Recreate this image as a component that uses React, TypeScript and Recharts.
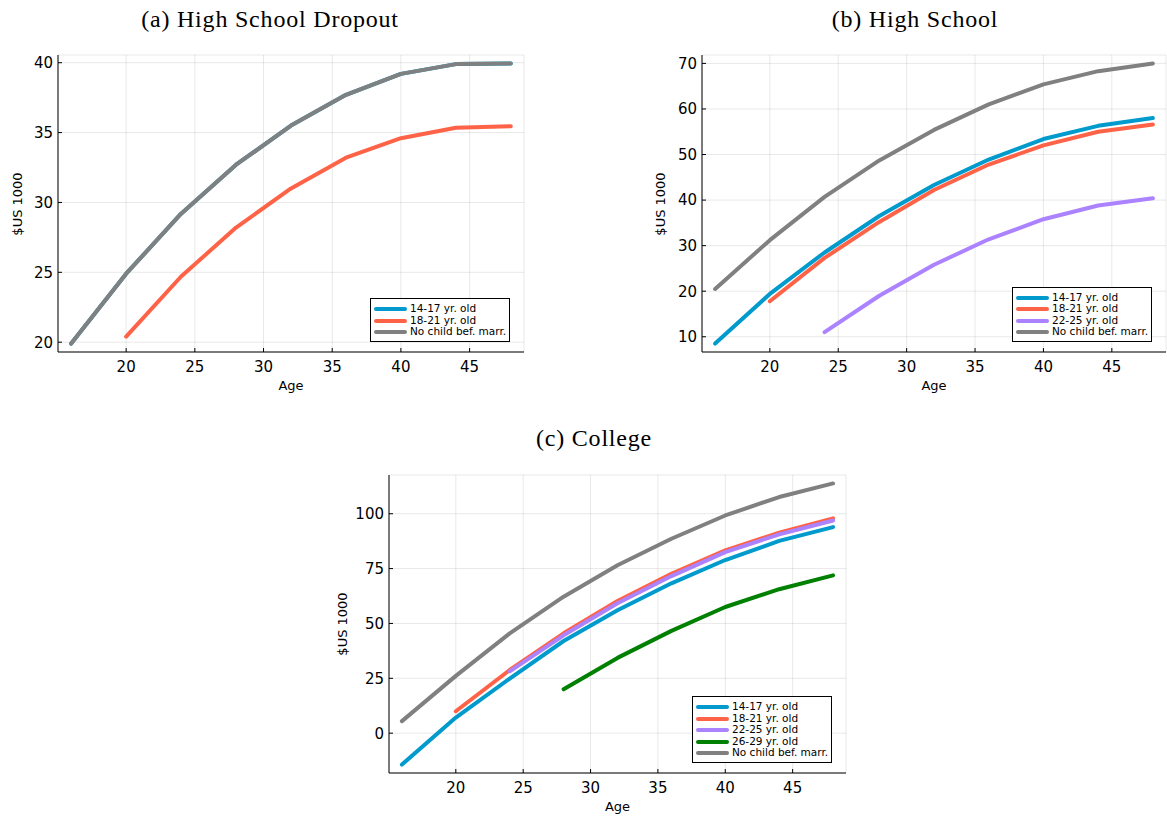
import { LineChart, Line, XAxis, YAxis, CartesianGrid } from 'recharts'

// ages at which earnings are observed
const AGES = [16, 20, 24, 28, 32, 36, 40, 44, 48]
const X_TICKS = [20, 25, 30, 35, 40, 45]

// (a) High School Dropout, $US 1000
const DROP_1417 = [19.9, 24.9, 29.2, 32.7, 35.5, 37.7, 39.2, 39.9, 39.95]
const DROP_1821 = [null, 20.4, 24.7, 28.2, 31.0, 33.2, 34.6, 35.35, 35.45]
const DROP_NOCHILD = [19.9, 24.9, 29.2, 32.7, 35.5, 37.7, 39.2, 39.9, 39.95]
const DROP_Y_TICKS = [20, 25, 30, 35, 40]

// (b) High School
const HS_1417 = [8.5, 19.4, 28.5, 36.5, 43.3, 48.9, 53.4, 56.3, 58.0]
const HS_1821 = [null, 17.8, 27.3, 35.2, 42.2, 47.8, 52.0, 55.0, 56.6]
const HS_2225 = [null, null, 11.0, 19.0, 25.8, 31.4, 35.8, 38.8, 40.4]
const HS_NOCHILD = [20.5, 31.2, 40.7, 48.7, 55.4, 61.0, 65.4, 68.3, 70.0]
const HS_Y_TICKS = [10, 20, 30, 40, 50, 60, 70]

// (c) College
const COL_1417 = [-14.3, 7.1, 24.9, 42.0, 56.0, 68.3, 78.9, 87.6, 93.9]
const COL_1821 = [null, 10.0, 28.8, 45.5, 60.2, 72.6, 83.3, 91.4, 97.9]
const COL_2225 = [null, null, 28.2, 44.6, 59.2, 71.6, 82.5, 90.6, 96.9]
const COL_2629 = [null, null, null, 20.0, 34.3, 46.6, 57.5, 65.6, 71.9]
const COL_NOCHILD = [5.5, 26.1, 45.5, 62.2, 76.5, 88.6, 99.2, 107.6, 113.8]
const COL_Y_TICKS = [0, 25, 50, 75, 100]

const BLUE = '#009ACD'
const RED = '#FF6347'
const PURPLE = '#AB82FF'
const GREEN = '#008000'
const GRAY = '#808080'

type Series = { name: string; color: string; values: (number | null)[] }

interface PanelCfg {
  title: string
  titleX: number
  titleY: number
  left: number
  top: number
  right: number
  bottom: number
  yTicks: number[]
  labelGap: number
  series: Series[]
}

const PANELS: PanelCfg[] = [
  {
    title: '(a) High School Dropout', titleX: 270, titleY: 19,
    left: 58, top: 55, right: 524, bottom: 352, yTicks: DROP_Y_TICKS, labelGap: 40,
    series: [
      { name: '14-17 yr. old', color: BLUE, values: DROP_1417 },
      { name: '18-21 yr. old', color: RED, values: DROP_1821 },
      { name: 'No child bef. marr.', color: GRAY, values: DROP_NOCHILD },
    ],
  },
  {
    title: '(b) High School', titleX: 915, titleY: 19,
    left: 702, top: 55, right: 1166, bottom: 352, yTicks: HS_Y_TICKS, labelGap: 41,
    series: [
      { name: '14-17 yr. old', color: BLUE, values: HS_1417 },
      { name: '18-21 yr. old', color: RED, values: HS_1821 },
      { name: '22-25 yr. old', color: PURPLE, values: HS_2225 },
      { name: 'No child bef. marr.', color: GRAY, values: HS_NOCHILD },
    ],
  },
  {
    title: '(c) College', titleX: 594, titleY: 438,
    left: 389, top: 475, right: 846, bottom: 773, yTicks: COL_Y_TICKS, labelGap: 46,
    series: [
      { name: '14-17 yr. old', color: BLUE, values: COL_1417 },
      { name: '18-21 yr. old', color: RED, values: COL_1821 },
      { name: '22-25 yr. old', color: PURPLE, values: COL_2225 },
      { name: '26-29 yr. old', color: GREEN, values: COL_2629 },
      { name: 'No child bef. marr.', color: GRAY, values: COL_NOCHILD },
    ],
  },
]

// Plots.jl style 3% padding around the data
function padded(vals: number[]): [number, number] {
  const lo = Math.min(...vals)
  const hi = Math.max(...vals)
  const pad = (hi - lo) * 0.03
  return [lo - pad, hi + pad]
}

function XTick(props: any) {
  const { x, y, payload } = props
  return (
    <g>
      <line x1={x} y1={y} x2={x} y2={y - 4} stroke="#000" />
      <text x={x} y={y + 20} textAnchor="middle" fontSize={15} fill="#000">{payload.value}</text>
    </g>
  )
}

function YTick(props: any) {
  const { x, y, payload } = props
  return (
    <g>
      <line x1={x} y1={y} x2={x + 4} y2={y} stroke="#000" />
      <text x={x - 5} y={y} dy="0.36em" textAnchor="end" fontSize={15} fill="#000">{payload.value}</text>
    </g>
  )
}

function Legend({ p }: { p: PanelCfg }) {
  const n = p.series.length
  const h = n * 11.5 + 9.5
  const w = 140
  return (
    <div style={{
      position: 'absolute', left: p.right - 14 - w, top: p.bottom - 10 - h, width: w, height: h,
      border: '1px solid #000', boxSizing: 'border-box', background: '#fff', fontSize: 10.5,
    }}>
      {p.series.map((s, i) => (
        <div key={s.name} style={{ position: 'absolute', left: 3, top: 10 + 11.5 * i - 5.75, height: 11.5, display: 'flex', alignItems: 'center', whiteSpace: 'nowrap' }}>
          <div style={{ width: 33, height: 4, borderRadius: 2, background: s.color, marginRight: 3 }} />
          <span style={{ lineHeight: '11.5px' }}>{s.name}</span>
        </div>
      ))}
    </div>
  )
}

function Panel({ p }: { p: PanelCfg }) {
  const w = p.right - p.left
  const h = p.bottom - p.top
  const rows = AGES.map((age, i) => {
    const r: Record<string, number | null> = { age }
    p.series.forEach((s, j) => { r['s' + j] = s.values[i] })
    return r
  })
  const allY = p.series.flatMap(s => s.values.filter((v): v is number => v !== null))
  const yDomain = padded(allY)
  const xDomain = padded(AGES)

  return (
    <>
      <div style={{ position: 'absolute', left: p.titleX - 200, top: p.titleY - 15, width: 400, textAlign: 'center', fontFamily: '"Liberation Serif", serif', fontSize: 24, letterSpacing: 0.8, lineHeight: '30px' }}>
        {p.title}
      </div>
      <div style={{ position: 'absolute', left: p.left - 60, top: p.top - 10 }}>
        <LineChart width={60 + w + 1} height={10 + h + 40} data={rows} margin={{ top: 10, right: 1, left: 0, bottom: 0 }}>
          <CartesianGrid stroke="#000" strokeOpacity={0.09} />
          <XAxis
            type="number" dataKey="age" domain={xDomain} ticks={X_TICKS} allowDataOverflow
            height={40} tickSize={0} tickMargin={0} interval={0} tick={<XTick />}
            axisLine={{ stroke: '#000' }} tickLine={false}
          />
          <YAxis
            type="number" domain={yDomain} ticks={p.yTicks} allowDataOverflow
            width={60} tickSize={0} tickMargin={0} interval={0} tick={<YTick />}
            axisLine={{ stroke: '#000' }} tickLine={false}
          />
          {p.series.map((s, j) => (
            <Line
              key={s.name} dataKey={'s' + j} name={s.name} type="linear"
              stroke={s.color} strokeWidth={4} dot={false} activeDot={false}
              strokeLinecap="round" strokeLinejoin="round" isAnimationActive={false}
            />
          ))}
        </LineChart>
      </div>
      <Legend p={p} />
      <div style={{ position: 'absolute', left: (p.left + p.right) / 2 - 50, top: p.bottom + 34 - 8, width: 100, textAlign: 'center', fontSize: 13, lineHeight: '16px' }}>
        Age
      </div>
      <div style={{
        position: 'absolute', left: p.left - p.labelGap - 50, top: (p.top + p.bottom) / 2 - 8, width: 100,
        textAlign: 'center', fontSize: 13, lineHeight: '16px', transform: 'rotate(-90deg)',
      }}>
        $US 1000
      </div>
    </>
  )
}

export default function App() {
  return (
    <div style={{ position: 'absolute', left: 0, top: 0, width: 1167, height: 817, overflow: 'hidden', background: '#fff', fontFamily: '"DejaVu Sans", sans-serif', color: '#000' }}>
      {PANELS.map(p => <Panel key={p.title} p={p} />)}
    </div>
  )
}
